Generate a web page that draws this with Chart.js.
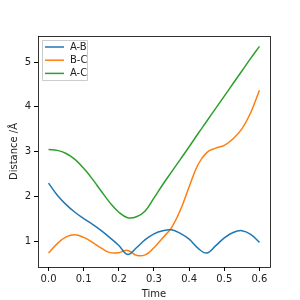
<!DOCTYPE html>
<html><head><meta charset="utf-8">
<script src="https://cdn.jsdelivr.net/npm/chart.js@4"></script>
<style>html,body{margin:0;padding:0;background:#fff}#w{width:300px;height:300px}</style>
</head><body><div id="w"><canvas id="c" width="300" height="300"></canvas></div>
<script>
const times = [0,0.025,0.05,0.075,0.1,0.125,0.15,0.175,0.2,0.225,0.25,0.275,0.3,0.325,0.35,0.375,0.4,0.425,0.45,0.475,0.5,0.525,0.55,0.575,0.6];
const seriesAB = [2.30,2.03,1.82,1.65,1.51,1.38,1.24,1.08,0.91,0.71,0.86,1.04,1.17,1.24,1.26,1.18,1.05,0.85,0.74,0.90,1.08,1.20,1.24,1.16,0.98];
const seriesBC = [0.74,0.95,1.10,1.15,1.09,0.98,0.85,0.75,0.75,0.80,0.69,0.70,0.86,1.08,1.31,1.70,2.22,2.71,2.98,3.08,3.14,3.29,3.51,3.87,4.37];
const seriesAC = [3.05,3.03,2.96,2.83,2.63,2.39,2.12,1.86,1.65,1.53,1.55,1.68,1.97,2.27,2.55,2.83,3.11,3.40,3.68,3.96,4.24,4.52,4.80,5.08,5.35];
const labels = ['A-B','B-C','A-C'];
const colors = ['#1f77b4','#ff7f0e','#2ca02c'];
const xTicks = [0,0.1,0.2,0.3,0.4,0.5,0.6];
const yTicks = [1,2,3,4,5];
const xTitle = 'Time';
const yTitle = 'Distance /Å';

const FONT = 'DejaVu Sans';
const toPts = arr => arr.map((v,i)=>({x:times[i],y:v}));
const data = {datasets:[seriesAB,seriesBC,seriesAC].map((s,i)=>({
  label:labels[i], data:toPts(s), borderColor:colors[i], backgroundColor:colors[i],
  borderWidth:1.5, pointRadius:0, tension:0.4, fill:false
}))};

const frame = {
  id:'frame',
  afterDatasetsDraw(chart){
    const {ctx, chartArea:a} = chart;
    ctx.save();
    ctx.strokeStyle='#000'; ctx.lineWidth=0.8;
    ctx.strokeRect(Math.round(a.left)+0.5, Math.round(a.top)+0.5, Math.round(a.right-a.left), Math.round(a.bottom-a.top));
    // legend
    const lx=a.left+4, ly=a.top+4, lw=45, lh=40;
    ctx.fillStyle='rgba(255,255,255,0.8)';
    ctx.strokeStyle='#cccccc'; ctx.lineWidth=1;
    ctx.beginPath(); ctx.rect(lx+0.5,ly+0.5,lw,lh); ctx.fill(); ctx.stroke();
    ctx.font = '10px "'+FONT+'"'; ctx.textBaseline='middle';
    labels.forEach((l,i)=>{
      const y = ly+7+i*13.2;
      ctx.strokeStyle=colors[i]; ctx.lineWidth=1.5;
      ctx.beginPath(); ctx.moveTo(lx+3,y); ctx.lineTo(lx+22,y); ctx.stroke();
      ctx.fillStyle='#222'; ctx.fillText(l, lx+28, y);
    });
    ctx.restore();
  }
};

new Chart(document.getElementById('c'), {
  type:'line', data,
  options:{
    responsive:false, animation:false, devicePixelRatio:1,
    layout:{padding:{left:8,right:30,top:36,bottom:0}},
    plugins:{legend:{display:false}, tooltip:{enabled:false}},
    scales:{
      x:{type:'linear', min:-0.03, max:0.63,
        afterBuildTicks(s){ s.ticks = xTicks.map(v=>({value:v})); },
        afterFit(s){ s.height = 33; },
        ticks:{font:{family:FONT,size:10}, color:'#222', maxRotation:0, padding:2, callback:v=>v.toFixed(1)},
        grid:{drawOnChartArea:false, drawTicks:true, tickLength:4, color:'#000'},
        border:{display:false},
        title:{display:true, text:xTitle, font:{family:FONT,size:10}, color:'#222', padding:{top:0,bottom:0}}
      },
      y:{type:'linear', min:0.43, max:5.58,
        afterBuildTicks(s){ s.ticks = yTicks.map(v=>({value:v})); },
        afterFit(s){ s.width = 30; },
        ticks:{font:{family:FONT,size:10}, color:'#222', padding:3, callback:v=>String(v)},
        grid:{drawOnChartArea:false, drawTicks:true, tickLength:4, color:'#000'},
        border:{display:false},
        title:{display:true, text:yTitle, font:{family:FONT,size:10}, color:'#222', padding:{top:0,bottom:0}}
      }
    }
  },
  plugins:[frame]
});
</script></body></html>
